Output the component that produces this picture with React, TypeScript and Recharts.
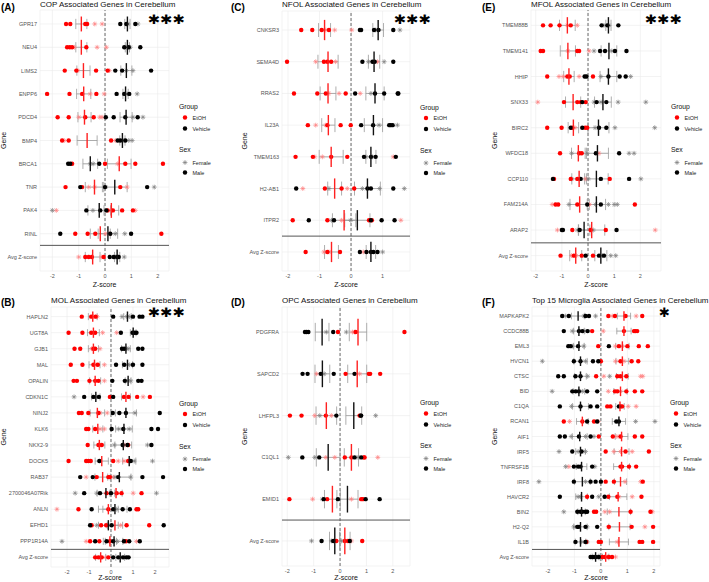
import React from 'react';
import { ScatterChart, Scatter, XAxis, YAxis, CartesianGrid, ReferenceLine, ErrorBar } from 'recharts';

// ---------- (A) COP ----------
const copGenes = ['GPR17', 'NEU4', 'LIMS2', 'ENPP6', 'PDCD4', 'BMP4', 'BRCA1', 'TNR', 'PAK4', 'RINL', 'Avg Z-score'];
const copEtohMale = [
  [-1.48, -1.32, -0.75, -0.68], [-1.44, -1.34, -1.25, -0.71], [-1.53, -1.09, -0.34, 0.1], [-2.2, -1.35, -0.87, -0.33],
  [-1.8, -1.38, -0.75, -0.43], [-1.63, -1.38, 0.23], [-1.25, 0.0, 0.77, 1.15, 2.2], [-1.5, -0.87, 0.58],
  [0.1, 0.3, 0.65, 1.06], [-1.13, -0.66, -0.37, 2.14], [-0.75, -0.62, -0.5, -0.05],
];
const copEtohFemale = [
  [-0.39, -0.11], [-1.16, -0.3, 0.05], [-1.03, 0.16], [-0.56, -0.03], [-1.0, -0.2, -0.11], [-1.55, 0.39],
  [0.48], [-0.62, -0.39, 0.84], [-1.85, 0.27, 1.15], [0.01, 0.18], [-1.0, -0.14],
];
const copVehMale = [
  [0.58, 0.81, 1.15], [0.73, 0.9, 1.34], [0.39, 0.65, 1.75], [0.44, 0.73, 0.92], [0.03, 0.33, 0.77, 1.24],
  [0.48, 0.58, 0.77], [-1.4, -1.32, -0.22], [-0.94, 0.0, 1.6], [-0.71, -0.18, 0.05], [-1.7, 0.2, 0.99],
  [0.18, 0.33, 0.46, 0.52],
];
const copVehFemale = [
  [0.87, 1.25], [0.81, 0.96], [0.81, 1.06], [0.84, 1.22], [1.06, 1.44], [0.68, 0.9, 1.03], [-0.56, -0.45],
  [0.02, 1.87], [-2.0, -0.46], [0.39, 0.75], [0.4, 0.73],
];
const copEtohMean = [-0.9, -0.9, -0.82, -0.81, -0.78, -0.68, 0.54, -0.4, 0.24, -0.18, -0.47];
const copEtohSe = [0.21, 0.21, 0.25, 0.27, 0.25, 0.38, 0.45, 0.35, 0.28, 0.38, 0.28];
const copVehMean = [0.85, 0.85, 0.81, 0.78, 0.8, 0.66, -0.56, 0.37, -0.22, 0.11, 0.46];
const copVehSe = [0.1, 0.08, 0.21, 0.1, 0.23, 0.1, 0.28, 0.47, 0.43, 0.37, 0.1];

// ---------- (B) MOL ----------
const molGenes = ['HAPLN2', 'UGT8A', 'GJB1', 'MAL', 'OPALIN', 'CDKN1C', 'NINJ2', 'KLK6', 'NKX2-9', 'DOCK5', 'RAB37', '2700046A07Rik', 'ANLN', 'EFHD1', 'PPP1R14A', 'Avg Z-score'];
const molEtohMale = [
  [-1.33, -0.9, -0.7], [-1.93, -1.3, -0.9, -0.72], [-1.66, -1.4, -0.8, -0.72], [-1.83, -1.3, -0.8, -0.6],
  [-1.7, -1.55, -0.98, -0.72, -0.57], [-0.05, 0.59, 0.8, 1.19, 1.77], [-1.46, -1.33, -1.03, -0.57],
  [-1.13, -1.03, -0.72], [-1.06, -0.57, -0.42, 0.78], [-1.93, -1.13, -1.03, -0.92, 0.1, 0.78],
  [-0.65, -0.12, -0.05], [-0.2, 0.26, 0.48, 1.39], [-1.48, -0.12, 1.16, 1.24], [-0.88, -0.45, -0.22, 0.71, 1.74],
  [-0.95, -0.53, -0.05, 0.68], [-0.72, -0.57, -0.42, -0.12],
];
const molEtohFemale = [
  [-0.8, -0.62], [-0.8, -0.38, 0.26], [-0.88, -0.5], [-0.68, -0.3], [-0.3], [1.46], [-0.5, -0.17], [-0.5, -0.3],
  [-0.5, 0.63], [0.33, 0.59], [-1.13, 0.1], [1.01], [-2.46], [0.44], [-1.13, 1.16], [-0.5, -0.23],
];
const molVehMale = [
  [0.1, 1.0, 1.3, 1.43], [0.45, 0.98, 1.08, 1.16], [0.5, 0.6, 1.24, 1.43], [0.23, 0.6, 1.0, 1.43],
  [0.06, 0.63, 1.24, 1.39], [-1.22, -0.8, -0.55, 0.1], [0.08, 0.38, 0.68, 2.22], [0.03, 0.56, 1.84, 2.14],
  [0.53, 0.75, 1.84], [-0.53, 0.9], [-1.4, -0.83, 0.33, 1.43, 2.37], [-1.22, -0.5, 0.0], [-0.88, 0.1, 0.53, 0.86],
  [-0.95, 0.03, 2.4], [-0.72, -0.2, 0.1, 0.59, 0.83, 1.31], [0.1, 0.33, 0.55, 0.7, 0.8],
];
const molVehFemale = [
  [0.5, 0.72, 0.85], [1.02], [0.7, 0.78], [0.75, 0.85], [0.78, 0.9], [-1.68, -0.65], [1.09], [0.35, 0.83],
  [0.15, 1.66], [1.06, 1.89], [0.18, 0.9], [-1.63, -0.65, 2.07], [0.26], [-0.65, -0.12], [-2.23, 0.29], [0.45],
];
const molEtohMean = [-0.83, -0.8, -0.8, -0.75, -0.72, 0.68, -0.62, -0.6, -0.53, -0.42, -0.38, 0.23, -0.12, 0.18, -0.05, -0.47];
const molEtohSe = [0.2, 0.27, 0.23, 0.25, 0.25, 0.2, 0.33, 0.23, 0.25, 0.3, 0.35, 0.28, 0.45, 0.35, 0.3, 0.23];
const molVehMean = [0.75, 1.01, 0.68, 0.75, 0.78, -0.69, 0.68, 0.59, 0.56, 0.83, 0.38, -0.23, 0.18, -0.12, 0.14, 0.42];
const molVehSe = [0.17, 0.13, 0.2, 0.23, 0.13, 0.19, 0.48, 0.38, 0.38, 0.3, 0.53, 0.4, 0.55, 0.45, 0.4, 0.2];

// ---------- (C) NFOL ----------
const nfolGenes = ['CNKSR3', 'SEMA4D', 'RRAS2', 'IL23A', 'TMEM163', 'H2-AB1', 'ITPR2', 'Avg Z-score'];
const nfolEtohMale = [
  [-1.58, -1.23, -0.93, -0.7], [-2.03, -0.86, -0.75, -0.63], [-1.81, -1.07, -0.8, -0.17], [-1.37, -0.75, -0.33, -0.01],
  [-1.76, -1.21, -0.63, -0.12], [-0.83, -0.3, 0.1], [-1.85, -0.75, 0.57, 0.66], [-1.44, -0.75, -0.35],
];
const nfolEtohFemale = [
  [-0.8, -0.52, 0.02], [-1.12, -0.49, 0.84], [-0.7, -0.38, 0.29], [-1.12, -0.8], [-1.15, -0.91, 1.34],
  [-1.53, -0.12], [-0.3, 1.58], [-0.86, -0.7, 0.39],
];
const nfolVehMale = [
  [0.28, 0.32, 0.73, 0.87, 1.34], [0.36, 0.68, 0.75, 1.34], [0.13, 0.76, 1.05, 1.48, 1.5], [0.32, 0.7, 1.21, 1.26, 1.32],
  [0.41, 0.63, 0.78, 1.42], [-1.74, 0.52, 0.63, 1.34], [-1.34, -0.54, 0.63, 0.97, 1.38], [0.28, 0.49, 0.63, 0.71, 0.84],
];
const nfolVehFemale = [
  [0.78, 1.55], [0.55, 1.05], [0.63], [0.89, 1.47], [0.47, 0.68], [-0.7, 0.36, 0.91, 1.69], [-0.62, -0.01], [1.0],
];
const nfolEtohMean = [-0.84, -0.73, -0.73, -0.72, -0.63, -0.52, -0.22, -0.62];
const nfolEtohSe = [0.19, 0.32, 0.25, 0.21, 0.38, 0.22, 0.37, 0.22];
const nfolVehMean = [0.86, 0.73, 0.76, 0.71, 0.63, 0.52, 0.2, 0.63];
const nfolVehSe = [0.17, 0.18, 0.29, 0.29, 0.16, 0.41, 0.4, 0.15];

// ---------- (D) OPC ----------
const opcGenes = ['PDGFRA', 'SAPCD2', 'LHFPL3', 'C1QL1', 'EMID1', 'Avg Z-score'];
const opcEtohMale = [
  [-0.08, 0.59, 2.44], [0.21, 1.09, 1.14, 1.52], [-1.9, -1.46, -0.54, 0.74], [0.18, 0.43, 0.9, 0.93],
  [-1.92, -0.49, 0.8, 0.87], [-0.14, 0.18, 0.3, 0.84],
];
const opcEtohFemale = [[0.47, 0.55], [-0.89, 0.74], [-0.96, -0.33], [-0.54, -0.2, 1.43], [-1.04, 0.43], [0.43]];
const opcVehMale = [
  [-1.33, -1.27, -1.2, -0.26], [-1.42, -1.23, -0.73, -0.24, 0.55], [-0.14, 0.78, 0.8], [-1.43, -0.79, 0.55, 0.8],
  [-0.62, -0.08, 0.97, 1.5], [-0.7, -0.26, 0.37],
];
const opcVehFemale = [[-0.52, 0.24], [-0.6], [-0.77, 1.35], [-1.96, -0.96, 0.68], [-0.67], [-1.08, -0.33, 0.05]];
const opcEtohMean = [0.68, 0.65, -0.52, 0.43, -0.29, 0.18];
const opcEtohSe = [0.33, 0.36, 0.39, 0.27, 0.3, 0.2];
const opcVehMean = [-0.68, -0.67, 0.52, -0.45, 0.28, -0.2];
const opcVehSe = [0.26, 0.28, 0.3, 0.45, 0.4, 0.2];

// ---------- (E) MFOL ----------
const mfolGenes = ['TMEM88B', 'TMEM141', 'HHIP', 'SNX33', 'BIRC2', 'WFDC18', 'CCP110', 'FAM214A', 'ARAP2', 'Avg Z-score'];
const mfolEtohMale = [
  [-1.72, -1.43, -1.09, -0.66], [-1.81, -1.72, -0.41, -0.34], [-1.56, -0.79, -0.7, 0.19], [-0.92, -0.41, -0.28, -0.09],
  [-1.56, -1.01, -0.6, -0.11, -0.03], [-1.07, -0.34, -0.24], [-1.3, -0.66, -0.41, 0.83], [-1.24, -1.14, -0.41, 1.79],
  [-0.6, 0.1, 0.68], [-1.05, -0.54, -0.24, 0.19],
];
const mfolEtohFemale = [
  [-0.79, -0.41], [-0.77, 0.04], [-1.11, -0.95, -0.34], [-1.92], [-0.5], [-0.3, 0.42], [-0.09], [-1.37, 0.06],
  [-1.17, 2.57], [-0.63, -0.45],
];
const mfolVehMale = [
  [0.52, 0.74, 1.16], [0.46, 0.65, 1.03, 1.47], [-0.13, -0.06, 0.78, 1.21, 1.44], [-0.22, 0.33, 0.7],
  [-0.66, -0.22, 0.42, 0.7], [0.3, 1.19], [-1.34, -0.28, 0.49, 1.57], [-0.03, 0.49], [-1.0, -0.96, -0.32, 1.09],
  [-0.09, 0.42, 0.61],
];
const mfolVehFemale = [
  [0.61, 0.8], [0.23, 0.91], [0.49, 1.63], [0.23, 0.5, 1.15, 2.21], [0.27, 1.03, 2.55], [-0.63, -0.03, 1.57, 1.76],
  [-0.63, 0.01, 2.02], [-0.73, 0.29, 0.78, 1.0, 1.12], [-0.41, 0.2], [0.55, 0.87, 1.06],
];
const mfolEtohMean = [-0.79, -0.77, -0.73, -0.57, -0.56, -0.37, -0.34, -0.32, 0.14, -0.47];
const mfolEtohSe = [0.3, 0.29, 0.2, 0.29, 0.2, 0.26, 0.28, 0.37, 0.5, 0.23];
const mfolVehMean = [0.78, 0.8, 0.78, 0.57, 0.4, 0.36, 0.32, 0.32, -0.15, 0.49];
const mfolVehSe = [0.1, 0.3, 0.32, 0.32, 0.4, 0.42, 0.45, 0.35, 0.22, 0.23];

// ---------- (F) Microglia ----------
const microGenes = ['MAPKAPK2', 'CCDC88B', 'EML3', 'HVCN1', 'CTSC', 'BID', 'C1QA', 'RCAN1', 'AIF1', 'IRF5', 'TNFRSF1B', 'IRF8', 'HAVCR2', 'BIN2', 'H2-Q2', 'IL1B', 'Avg Z-score'];
const microEtohMale = [
  [0.28, 0.53, 0.93, 1.56], [-0.33, 0.87, 1.25, 1.3, 1.37], [-0.1, 0.68, 1.0, 1.43, 1.77], [0.0, 0.74, 1.16, 1.41],
  [-0.18, 0.62, 0.74, 0.96], [0.53, 0.62, 0.96, 1.28, 1.56], [0.24, 0.36, 0.74, 0.8], [-1.4, -0.7, -0.26],
  [-0.08, 0.45, 0.74, 1.28, 1.56], [0.18, 0.93, 1.81], [0.74, 0.8, 1.06, 1.33], [0.18, 0.49, 1.58],
  [-0.52, 0.28, 0.62, 1.53], [-0.26, -0.18, 1.12, 1.87], [0.3, 1.16, 1.97], [-0.55, -0.08, 0.0, 1.46, 1.56, 1.97],
  [0.05, 0.15, 0.3, 0.42],
];
const microEtohFemale = [
  [0.43, 1.33], [0.09], [0.55, 0.81], [0.55, 0.87], [0.11, 1.5, 1.58], [0.28, 0.74], [1.03, 1.33], [-1.18, -0.1],
  [0.6], [0.49, 0.74, 1.18], [-1.21], [0.91, 1.5], [0.68, 1.18], [0.15, 0.33, 1.94], [0.28, 1.66], [0.62], [0.25, 0.55],
];
const microVehMale = [
  [-1.46, -1.21, -0.58, -0.45], [-1.4, -0.83, -0.7, -0.5], [-1.23, -1.14, -0.86, 0.3], [-1.02, -0.77, -0.3, -0.1],
  [-1.61, -1.4, -0.96, -0.77], [-1.08, -0.95, -0.83, -0.52, -0.14], [-1.55, -0.77, -0.39, -0.14, 0.68],
  [-0.52, -0.14, 0.58, 0.68], [-1.55, -1.36, -0.83, -0.39], [-1.08, -0.73], [-1.02, -0.86, -0.77, -0.33],
  [-1.02, -0.39, -0.2, 0.0], [-1.55, -0.33, 0.14], [-0.89, -0.77, -0.7, -0.58, -0.52], [-0.89, -0.83, -0.58, -0.14],
  [-0.96, -0.58], [-0.39, -0.3, -0.2, -0.08],
];
const microVehFemale = [
  [-1.33, -0.64, -0.2], [-1.08, -0.6], [-1.08, -0.64], [-2.21, -0.58], [-0.5, 0.33], [-1.84, -0.7], [-1.11],
  [1.31, 2.04], [-1.12, -0.58, -0.26], [-1.58, -0.86, -0.58], [-1.33, -0.23], [-2.34, -0.58], [-0.86, -0.77, -0.08],
  [-1.4], [-1.02, -0.52], [-0.73, -0.52], [-0.25, -0.12],
];
const microEtohMean = [0.87, 0.87, 0.81, 0.81, 0.81, 0.74, 0.72, -0.7, 0.78, 0.78, 0.78, 0.74, 0.65, 0.68, 0.7, 0.68, 0.18];
const microEtohSe = [0.25, 0.27, 0.25, 0.24, 0.22, 0.25, 0.16, 0.22, 0.24, 0.28, 0.3, 0.23, 0.33, 0.44, 0.4, 0.36, 0.12];
const microVehMean = [-0.86, -0.83, -0.83, -0.77, -0.77, -0.83, -0.77, 0.68, -0.8, -0.77, -0.73, -0.7, -0.73, -0.73, -0.77, -0.77, -0.2];
const microVehSe = [0.25, 0.2, 0.2, 0.25, 0.22, 0.22, 0.3, 0.25, 0.28, 0.18, 0.2, 0.3, 0.22, 0.14, 0.25, 0.2, 0.13];

const FONT = '"Liberation Sans", Arial, sans-serif';
const RED = '#ff0000';
const PINK = '#ff8080';
const GREYSTAR = '#808080';

const rowPoints = (rows: number[][]) => rows.flatMap((vals, i) => vals.map((v) => ({ x: v, y: i + 1 })));
const meanPoints = (means: number[], se: number[]) => means.map((m, i) => ({ x: m, y: i + 1, err: se[i] }));

const dot = (color: string, r = 2.2) => (p: any) => <circle cx={p.cx} cy={p.cy} r={r} fill={color} />;
const star = (color: string, r = 2.4) => (p: any) => {
  const { cx, cy } = p;
  const d = r * 0.707;
  return (
    <g stroke={color} strokeWidth={0.7}>
      <line x1={cx - r} y1={cy} x2={cx + r} y2={cy} />
      <line x1={cx} y1={cy - r} x2={cx} y2={cy + r} />
      <line x1={cx - d} y1={cy - d} x2={cx + d} y2={cy + d} />
      <line x1={cx - d} y1={cy + d} x2={cx + d} y2={cy - d} />
    </g>
  );
};
const bar = (color: string, h: number) => (p: any) => (
  <line x1={p.cx} x2={p.cx} y1={p.cy - h} y2={p.cy + h} stroke={color} strokeWidth={1.4} />
);

const panels = [
  { tag: '(A)', title: 'COP Associated Genes in Cerebellum', stars: '✱✱✱', starX: 148, left: 0, top: 0, plotLeft: 40, plotRight: 169, plotTop: 10, plotBottom: 271, domain: [-2.47, 2.43], ticks: [-2, -1, 0, 1, 2], genes: copGenes, em: copEtohMale, ef: copEtohFemale, vm: copVehMale, vf: copVehFemale, emean: copEtohMean, ese: copEtohSe, vmean: copVehMean, vse: copVehSe },
  { tag: '(B)', title: 'MOL Associated Genes in Cerebellum', stars: '✱✱✱', starX: 148, left: 0, top: 292, plotLeft: 51, plotRight: 169, plotTop: 307, plotBottom: 567, domain: [-2.73, 2.64], ticks: [-2, -1, 0, 1, 2], genes: molGenes, em: molEtohMale, ef: molEtohFemale, vm: molVehMale, vf: molVehFemale, emean: molEtohMean, ese: molEtohSe, vmean: molVehMean, vse: molVehSe },
  { tag: '(C)', title: 'NFOL Associated Genes in Cerebellum', stars: '✱✱✱', starX: 394, left: 236, top: 0, plotLeft: 282, plotRight: 410, plotTop: 11, plotBottom: 271, domain: [-2.19, 1.87], ticks: [-2, -1, 0, 1], genes: nfolGenes, em: nfolEtohMale, ef: nfolEtohFemale, vm: nfolVehMale, vf: nfolVehFemale, emean: nfolEtohMean, ese: nfolEtohSe, vmean: nfolVehMean, vse: nfolVehSe },
  { tag: '(D)', title: 'OPC Associated Genes in Cerebellum', stars: '', starX: 0, left: 236, top: 292, plotLeft: 282, plotRight: 410, plotTop: 307, plotBottom: 566, domain: [-2.2, 2.65], ticks: [-2, -1, 0, 1, 2], genes: opcGenes, em: opcEtohMale, ef: opcEtohFemale, vm: opcVehMale, vf: opcVehFemale, emean: opcEtohMean, ese: opcEtohSe, vmean: opcVehMean, vse: opcVehSe },
  { tag: '(E)', title: 'MFOL Associated Genes in Cerebellum', stars: '✱✱✱', starX: 645, left: 472, top: 0, plotLeft: 531, plotRight: 661, plotTop: 10, plotBottom: 271, domain: [-2.18, 2.79], ticks: [-2, -1, 0, 1, 2], genes: mfolGenes, em: mfolEtohMale, ef: mfolEtohFemale, vm: mfolVehMale, vf: mfolVehFemale, emean: mfolEtohMean, ese: mfolEtohSe, vmean: mfolVehMean, vse: mfolVehSe },
  { tag: '(F)', title: 'Top 15 Microglia Associated Genes in Cerebellum', stars: '✱', starX: 659, left: 472, top: 292, plotLeft: 532, plotRight: 660, plotTop: 307, plotBottom: 566, domain: [-2.6, 2.23], ticks: [-2, -1, 0, 1, 2], genes: microGenes, em: microEtohMale, ef: microEtohFemale, vm: microVehMale, vf: microVehFemale, emean: microEtohMean, ese: microEtohSe, vmean: microVehMean, vse: microVehSe },
];

const tagX = [1, 1, 231, 231, 482, 482];
const geneX = [3.5, 3.5, 244, 244, 494, 494];

function PanelChart({ p }: { p: any }) {
  const n = p.genes.length;
  const w = p.plotRight - p.left + 2;
  const h = p.plotBottom - p.top + 14;
  const rs = (p.plotBottom - p.plotTop) / (n + 0.2);
  const tickStyle = { fontSize: 5.5, fill: '#555', fontFamily: FONT };
  const geneTick = (t: any) => (
    <text x={t.x} y={t.y} textAnchor="end" dominantBaseline="central" fontSize={5.5} fill="#555" fontFamily={FONT}>
      {p.genes[t.payload.value - 1]}
    </text>
  );
  return (
    <div style={{ position: 'absolute', left: p.left, top: p.top }}>
      <ScatterChart width={w} height={h} margin={{ top: p.plotTop - p.top, right: 2, bottom: 2, left: 0 }}>
        <CartesianGrid stroke="#ebebeb" strokeWidth={0.6} />
        <XAxis type="number" dataKey="x" domain={p.domain} allowDataOverflow ticks={p.ticks} interval={0}
          tickSize={0} tickMargin={3} axisLine={false} tickLine={false} height={12} tick={tickStyle} />
        <YAxis type="number" dataKey="y" domain={[0.4, n + 0.6]} reversed allowDataOverflow
          ticks={p.genes.map((_: string, i: number) => i + 1)} interval={0}
          width={p.plotLeft - p.left} tickSize={0} tickMargin={3} axisLine={false} tickLine={false} tick={geneTick} />
        <ReferenceLine x={0} stroke="#444" strokeDasharray="3 2" strokeWidth={0.8} />
        <ReferenceLine y={n - 0.5} stroke="#555" strokeWidth={1} />
        <Scatter data={rowPoints(p.ef)} shape={star(PINK)} isAnimationActive={false} />
        <Scatter data={rowPoints(p.vf)} shape={star(GREYSTAR)} isAnimationActive={false} />
        <Scatter data={rowPoints(p.em)} shape={dot(RED)} isAnimationActive={false} />
        <Scatter data={rowPoints(p.vm)} shape={dot('#000')} isAnimationActive={false} />
        <Scatter data={meanPoints(p.emean, p.ese)} shape={bar('#ff2020', 0.32 * rs)} isAnimationActive={false}>
          <ErrorBar dataKey="err" direction="x" width={0.22 * rs} stroke="#999" strokeWidth={0.8} />
        </Scatter>
        <Scatter data={meanPoints(p.vmean, p.vse)} shape={bar('#111', 0.32 * rs)} isAnimationActive={false}>
          <ErrorBar dataKey="err" direction="x" width={0.22 * rs} stroke="#999" strokeWidth={0.8} />
        </Scatter>
      </ScatterChart>
    </div>
  );
}

function Legend({ x, mid }: { x: number; mid: number }) {
  const t = { fontFamily: FONT, fontSize: 5.5, fill: '#222' };
  const h = { fontFamily: FONT, fontSize: 6.8, fill: '#111' };
  return (
    <g>
      <text x={x} y={mid - 34} dominantBaseline="central" {...h}>Group</text>
      {dot(RED)({ cx: x + 6, cy: mid - 23 })}
      <text x={x + 13.5} y={mid - 23} dominantBaseline="central" {...t}>EtOH</text>
      {dot('#000')({ cx: x + 6, cy: mid - 12 })}
      <text x={x + 13.5} y={mid - 12} dominantBaseline="central" {...t}>Vehicle</text>
      <text x={x} y={mid + 9} dominantBaseline="central" {...h}>Sex</text>
      {star(GREYSTAR)({ cx: x + 6, cy: mid + 22 })}
      <text x={x + 13.5} y={mid + 22} dominantBaseline="central" {...t}>Female</text>
      {dot('#000')({ cx: x + 6, cy: mid + 32 })}
      <text x={x + 13.5} y={mid + 32} dominantBaseline="central" {...t}>Male</text>
    </g>
  );
}

export default function App() {
  return (
    <div style={{ position: 'relative', width: 709, height: 582, background: '#fff', overflow: 'hidden', fontFamily: FONT }}>
      <style>{'body{margin:0}'}</style>
      {panels.map((p) => <PanelChart key={p.tag} p={p} />)}
      <svg width={709} height={582} style={{ position: 'absolute', left: 0, top: 0, pointerEvents: 'none' }}>
        {panels.map((p, i) => {
          const mid = (p.plotTop + p.plotBottom) / 2;
          const topRow = p.top === 0;
          return (
            <g key={p.tag}>
              <text x={tagX[i]} y={topRow ? 7.5 : 302.5} dominantBaseline="central" fontFamily={FONT} fontSize={10} fontWeight="bold" fill="#000">{p.tag}</text>
              <text x={p.plotLeft} y={topRow ? 4 : 300} dominantBaseline="central" fontFamily={FONT} fontSize={8} fill="#111">{p.title}</text>
              {p.stars && (
                <text x={p.starX} y={topRow ? 19 : 312.5} dominantBaseline="central" fontFamily="DejaVu Sans" fontSize={13} fill="#000"
                  textLength={p.stars.length === 3 ? 37 : 11} lengthAdjust="spacingAndGlyphs">{p.stars}</text>
              )}
              <text x={geneX[i]} y={mid} transform={`rotate(-90 ${geneX[i]} ${mid})`} textAnchor="middle" dominantBaseline="central" fontFamily={FONT} fontSize={7} fill="#111">Gene</text>
              <text x={(p.plotLeft + p.plotRight) / 2} y={topRow ? p.plotBottom + 13.5 : 577.5} textAnchor="middle" dominantBaseline="central" fontFamily={FONT} fontSize={7} fill="#111">Z-score</text>
              <Legend x={p.plotRight + 10} mid={mid} />
            </g>
          );
        })}
      </svg>
    </div>
  );
}
